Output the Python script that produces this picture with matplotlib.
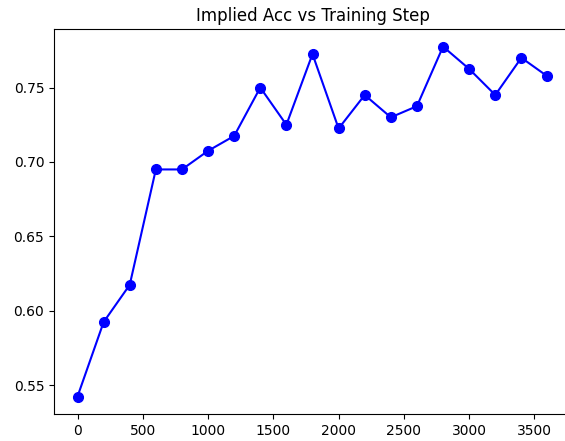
import matplotlib
matplotlib.use("Agg")
import matplotlib.pyplot as plt

# Steps and implied accuracy
steps = [0, 200, 400, 600, 800, 1000, 1200, 1400, 1600, 1800,
         2000, 2200, 2400, 2600, 2800, 3000, 3200, 3400, 3600]
acc = [0.5425, 0.5925, 0.6175, 0.695, 0.695, 0.7075, 0.7175, 0.75, 0.725, 0.7725,
       0.7225, 0.745, 0.73, 0.7375, 0.7775, 0.7625, 0.745, 0.77, 0.7575]

fig, ax = plt.subplots(figsize=(5.65, 4.41), dpi=100)
ax.plot(steps, acc, marker="o", color="blue", markersize=7)
ax.set_title("Implied Acc vs Training Step")
# the reference is cropped on the right, so the right spine falls off the image
fig.subplots_adjust(left=0.0956, right=1.0106, top=0.934, bottom=0.0612)
fig.savefig("out.png", dpi=100)
